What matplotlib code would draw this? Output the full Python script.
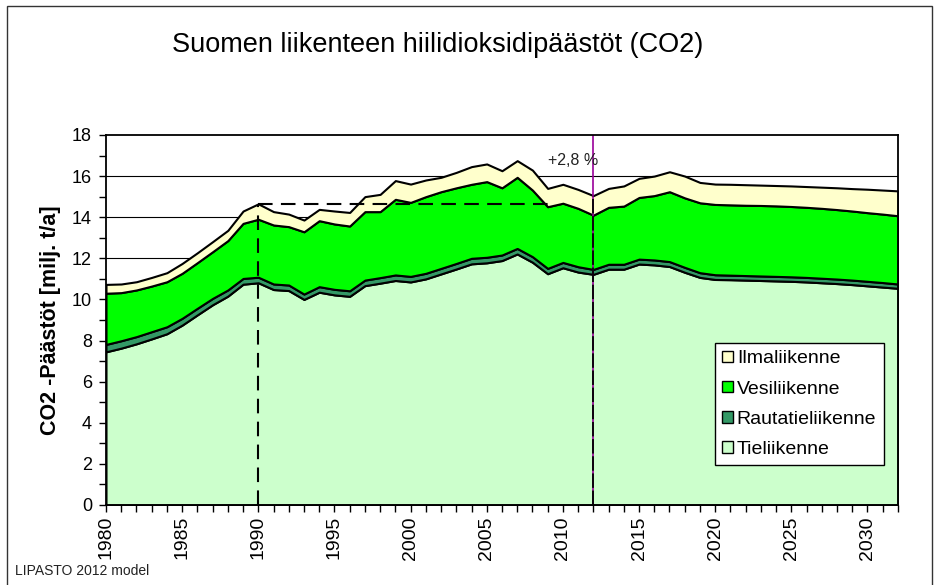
import numpy as np
import matplotlib.pyplot as plt
from matplotlib.patches import Patch, Rectangle
from matplotlib.ticker import MultipleLocator

plt.rcParams['font.family'] = ['Liberation Sans', 'DejaVu Sans']

# Years 1980-2032
years = list(range(1980, 2033))

# Emissions per transport mode [milj. t/a]
tieliikenne = [7.45, 7.63, 7.84, 8.08, 8.33, 8.75, 9.25, 9.74, 10.16, 10.74,
               10.81, 10.48, 10.43, 10.00, 10.35, 10.22, 10.15, 10.67, 10.79, 10.92,
               10.85, 11.00, 11.24, 11.48, 11.73, 11.78, 11.89, 12.21, 11.81, 11.25,
               11.54, 11.33, 11.22, 11.47, 11.47, 11.72, 11.68, 11.60, 11.32, 11.07,
               10.97, 10.96, 10.94, 10.92, 10.90, 10.88, 10.85, 10.81, 10.77, 10.72,
               10.66, 10.60, 10.54]
rautatieliikenne = [0.36, 0.36, 0.35, 0.35, 0.34, 0.33, 0.32, 0.31, 0.30, 0.28,
                    0.27, 0.27, 0.27, 0.26, 0.27, 0.27, 0.27, 0.27, 0.27, 0.27,
                    0.27, 0.27, 0.27, 0.27, 0.27, 0.27, 0.27, 0.27, 0.27, 0.26,
                    0.26, 0.26, 0.24, 0.24, 0.24, 0.24, 0.24, 0.24, 0.24, 0.23,
                    0.23, 0.22, 0.22, 0.22, 0.22, 0.22, 0.22, 0.22, 0.22, 0.22,
                    0.22, 0.22, 0.21]
vesiliikenne = [2.49, 2.34, 2.27, 2.22, 2.19, 2.19, 2.22, 2.27, 2.40, 2.68,
                2.82, 2.87, 2.84, 3.03, 3.21, 3.18, 3.15, 3.33, 3.21, 3.68,
                3.60, 3.73, 3.73, 3.68, 3.60, 3.68, 3.27, 3.46, 3.24, 3.00,
                2.88, 2.84, 2.64, 2.77, 2.83, 3.00, 3.13, 3.40, 3.38, 3.40,
                3.42, 3.42, 3.42, 3.43, 3.43, 3.42, 3.41, 3.40, 3.38, 3.36,
                3.34, 3.33, 3.32]
ilmaliikenne = [0.43, 0.42, 0.40, 0.42, 0.44, 0.48, 0.48, 0.49, 0.50, 0.60,
                0.75, 0.65, 0.61, 0.57, 0.55, 0.63, 0.66, 0.73, 0.84, 0.91,
                0.89, 0.81, 0.70, 0.75, 0.86, 0.86, 0.83, 0.81, 0.97, 0.89,
                0.92, 0.92, 0.95, 0.92, 0.98, 0.93, 0.95, 0.97, 1.06, 0.99,
                0.99, 1.00, 1.00, 0.99, 0.99, 1.00, 1.01, 1.03, 1.06, 1.09,
                1.14, 1.17, 1.21]

labels = ['Tieliikenne', 'Rautatieliikenne', 'Vesiliikenne', 'Ilmaliikenne']
colors = ['#CCFFCC', '#339966', '#00FF00', '#FFFFCC']

base_year = 1990
now_year = 2012
line_end_year = 2009

total = np.array(tieliikenne) + np.array(rautatieliikenne) + np.array(vesiliikenne) + np.array(ilmaliikenne)
base_total = total[years.index(base_year)]
now_total = total[years.index(now_year)]

fig = plt.figure(figsize=(9.38, 5.85), dpi=100)
ax = fig.add_axes([0.113, 0.1368, 0.8443, 0.6325])

# Outer frame of the picture
fig.patches.append(Rectangle((7 / 938, -0.05), 925 / 938, 1.05 - 6 / 585, transform=fig.transFigure,
                             fill=False, edgecolor='#333333', linewidth=1.0))

'''STACKED AREAS'''
ax.stackplot(years, tieliikenne, rautatieliikenne, vesiliikenne, ilmaliikenne,
             colors=colors, edgecolor='black', linewidth=1.5, zorder=2)

# Grid lines behind areas
for yv in range(2, 18, 2):
    ax.axhline(yv, color='black', linewidth=0.8, zorder=0)

# Reference lines (1990 level and 2012)
ax.plot([base_year, base_year], [0, base_total], color='black', linestyle=(0, (7, 4)), linewidth=1.5, zorder=3)
ax.plot([base_year, line_end_year], [base_total, base_total], color='black', linestyle=(0, (7, 4)), linewidth=1.5, zorder=3)
ax.axvline(now_year, color='#990099', linewidth=1.2, zorder=3)
ax.plot([now_year, now_year], [0, now_total], color='black', linestyle=(0, (8, 1.5)), linewidth=1.3, zorder=4)
ax.text(2010.65, 16.75, '+2,8 %', fontsize=11.5, ha='center', va='center', color='#222222')

'''AXES'''
ax.set_xlim(1980, 2032)
ax.set_ylim(0, 18)
ax.xaxis.set_major_locator(MultipleLocator(5))
ax.xaxis.set_minor_locator(MultipleLocator(1))
ax.yaxis.set_major_locator(MultipleLocator(2))
ax.yaxis.set_minor_locator(MultipleLocator(1))
ax.tick_params(which='both', direction='out', length=5, width=1, color='black')
ax.tick_params(axis='x', labelrotation=90, labelsize=14, pad=3)
ax.tick_params(axis='y', labelsize=13, pad=5)
for sp in ax.spines.values():
    sp.set_linewidth(1.3)
    sp.set_zorder(5)

ax.set_ylabel('CO2 -Päästöt [milj. t/a]', fontsize=15.5, fontweight='bold', labelpad=8)

fig.text(0.467, 0.923, 'Suomen liikenteen hiilidioksidipäästöt (CO2)', fontsize=19.5, ha='center', va='center')
fig.text(15 / 938, 0.012, 'LIPASTO 2012 model', fontsize=10, ha='left', va='bottom', color='#222222')

'''LEGEND'''
handles = [Patch(facecolor=colors[i], edgecolor='black', linewidth=1.0) for i in [3, 2, 1, 0]]
leg = ax.legend(handles, [labels[i] for i in [3, 2, 1, 0]], loc='upper right', bbox_to_anchor=(0.982, 0.438),
                borderaxespad=0, fontsize=14, frameon=True, fancybox=False, framealpha=1,
                edgecolor='black', handlelength=0.55, handleheight=0.55, handletextpad=0.2,
                labelspacing=0.68, borderpad=0.38)
leg.get_frame().set_linewidth(1.0)
leg.set_zorder(6)

fig.savefig('out.png', dpi=100)
